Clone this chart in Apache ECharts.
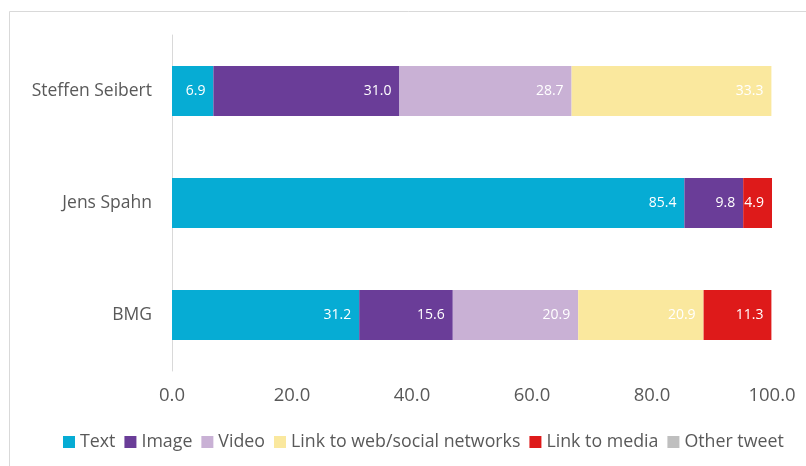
<!DOCTYPE html>
<html><head><meta charset="utf-8">
<script src="https://cdn.jsdelivr.net/npm/echarts@6/dist/echarts.min.js"></script>
<style>html,body{margin:0;padding:0;background:#fff}#c{width:806px;height:466px}</style>
</head><body><div id="c"></div>
<script>
const categories = ["BMG", "Jens Spahn", "Steffen Seibert"];
const textVals = [31.2, 85.4, 6.9];
const imageVals = [15.6, 9.8, 31.0];
const videoVals = [20.9, null, 28.7];
const linkWebVals = [20.9, null, 33.3];
const linkMediaVals = [11.3, 4.9, null];
const otherVals = [null, null, null];
const seriesNames = ["Text", "Image", "Video", "Link to web/social networks", "Link to media", "Other tweet"];
const xTicks = [0, 20, 40, 60, 80, 100];

const colors = ["#06ACD4", "#6A3D98", "#C9B1D5", "#FAE89E", "#DE1A1A", "#BFBFBF"];
const allData = [textVals, imageVals, videoVals, linkWebVals, linkMediaVals, otherVals];
const font = "'Open Sans', 'Liberation Sans', sans-serif";

const chart = echarts.init(document.getElementById('c'), null, {renderer: 'canvas'});
chart.setOption({
  animation: false,
  color: colors,
  graphic: [{
    type: 'rect', shape: {x: 9.5, y: 11.5, width: 820, height: 470},
    style: {fill: 'none', stroke: '#D9D9D9', lineWidth: 1}
  }],
  grid: {left: 172, right: 34, top: 35, bottom: 95},
  legend: {
    top: 428, left: 58,
    itemWidth: 12, itemHeight: 12, itemGap: 9,
    icon: 'rect',
    textStyle: {color: '#595959', fontSize: 17.8, fontFamily: font},
    data: seriesNames
  },
  xAxis: {
    type: 'value', min: xTicks[0], max: xTicks[xTicks.length - 1], interval: 20,
    axisLine: {show: false}, axisTick: {show: false}, splitLine: {show: false},
    axisLabel: {color: '#595959', fontSize: 18.5, fontFamily: font, margin: 15,
      formatter: v => v.toFixed(1)}
  },
  yAxis: {
    type: 'category', data: categories,
    axisLine: {show: true, lineStyle: {color: '#D9D9D9', width: 1}},
    axisTick: {show: false},
    axisLabel: {color: '#595959', fontSize: 17.5, fontFamily: font, margin: 20}
  },
  series: seriesNames.map((n, i) => ({
    name: n, type: 'bar', stack: 'all', barWidth: 50,
    data: allData[i],
    itemStyle: {color: colors[i]},
    label: {
      show: true, position: 'insideRight', distance: 8, color: '#fff',
      fontSize: 14, fontFamily: font,
      formatter: p => (p.value == null ? '' : Number(p.value).toFixed(1))
    }
  }))
});
</script></body></html>
